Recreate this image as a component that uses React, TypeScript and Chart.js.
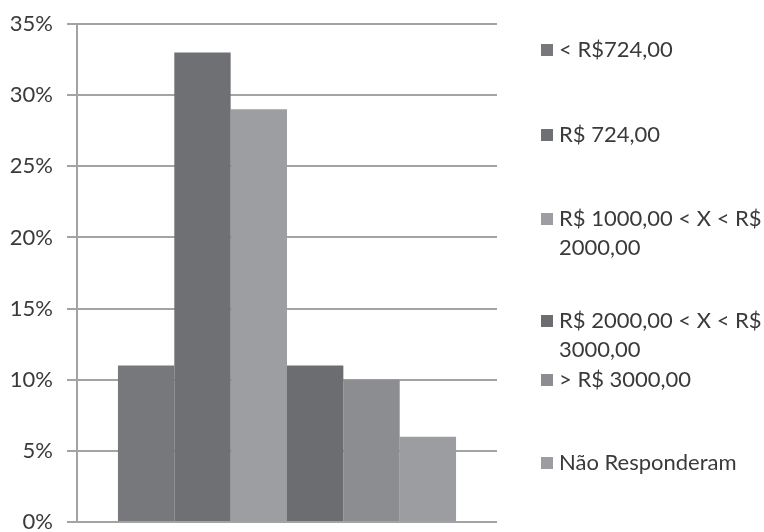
import React, { useEffect, useRef } from "react";
import { Chart, registerables } from "chart.js";

Chart.register(...registerables);

const categories = [""];
const seriesLabels = [
  ["< R$724,00"],
  ["R$ 724,00"],
  ["R$ 1000,00 < X < R$", "2000,00"],
  ["R$ 2000,00 < X < R$", "3000,00"],
  ["> R$ 3000,00"],
  ["Não Responderam"],
];
const seriesValues = [11, 33, 29, 11, 10, 6];
const seriesColors = ["#77787c", "#6f7074", "#9d9ea2", "#6c6d71", "#8c8d91", "#9c9da1"];
const yTicks = [0, 5, 10, 15, 20, 25, 30, 35];
const legendTops = [34, 119, 203, 305, 364, 447];

const FONT = "Lato, 'Open Sans', sans-serif";

export default function App() {
  const ref = useRef<HTMLCanvasElement | null>(null);

  useEffect(() => {
    document.body.style.margin = "0";
    const ctx = ref.current!;
    const chart = new Chart(ctx, {
      type: "bar",
      data: {
        labels: categories,
        datasets: seriesValues.map((v, i) => ({
          label: seriesLabels[i].join(" "),
          data: [v],
          backgroundColor: seriesColors[i],
          borderWidth: 0,
          barPercentage: 1,
          categoryPercentage: 0.805,
        })),
      },
      options: {
        animation: false,
        responsive: false,
        maintainAspectRatio: false,
        layout: { padding: { left: 0, right: 267, top: 24, bottom: 10 } },
        plugins: { legend: { display: false }, tooltip: { enabled: false } },
        scales: {
          x: { display: false },
          y: {
            min: 0,
            max: 35,
            afterFit: (s: any) => {
              s.width = 77;
              s.paddingTop = 0;
              s.paddingBottom = 0;
            },
            afterBuildTicks: (s: any) => {
              s.ticks = yTicks.map((v) => ({ value: v }));
            },
            ticks: {
              padding: 14,
              color: "#3a3a3a",
              font: { family: FONT, size: 22 },
              callback: (v: any) => v + "%",
            },
            grid: { color: "#a3a3a3", lineWidth: 2, tickLength: 10 },
            border: { display: true, color: "#a3a3a3", width: 2 },
          },
        },
      },
    });
    return () => chart.destroy();
  }, []);

  return (
    <div style={{ position: "relative", width: 764, height: 532, background: "#fff", fontFamily: FONT }}>
      <canvas ref={ref} width={764} height={532} style={{ position: "absolute", left: 0, top: 0 }} />
      {seriesLabels.map((lines, i) => (
        <div
          key={i}
          style={{ position: "absolute", left: 541, top: legendTops[i], display: "flex", alignItems: "flex-start" }}
        >
          <div style={{ width: 12, height: 12, background: seriesColors[i], marginTop: 10, marginRight: 6 }} />
          <div style={{ fontSize: 22, lineHeight: "29px", color: "#3a3a3a", whiteSpace: "nowrap" }}>
            {lines.map((l, j) => (
              <div key={j}>{l}</div>
            ))}
          </div>
        </div>
      ))}
    </div>
  );
}
